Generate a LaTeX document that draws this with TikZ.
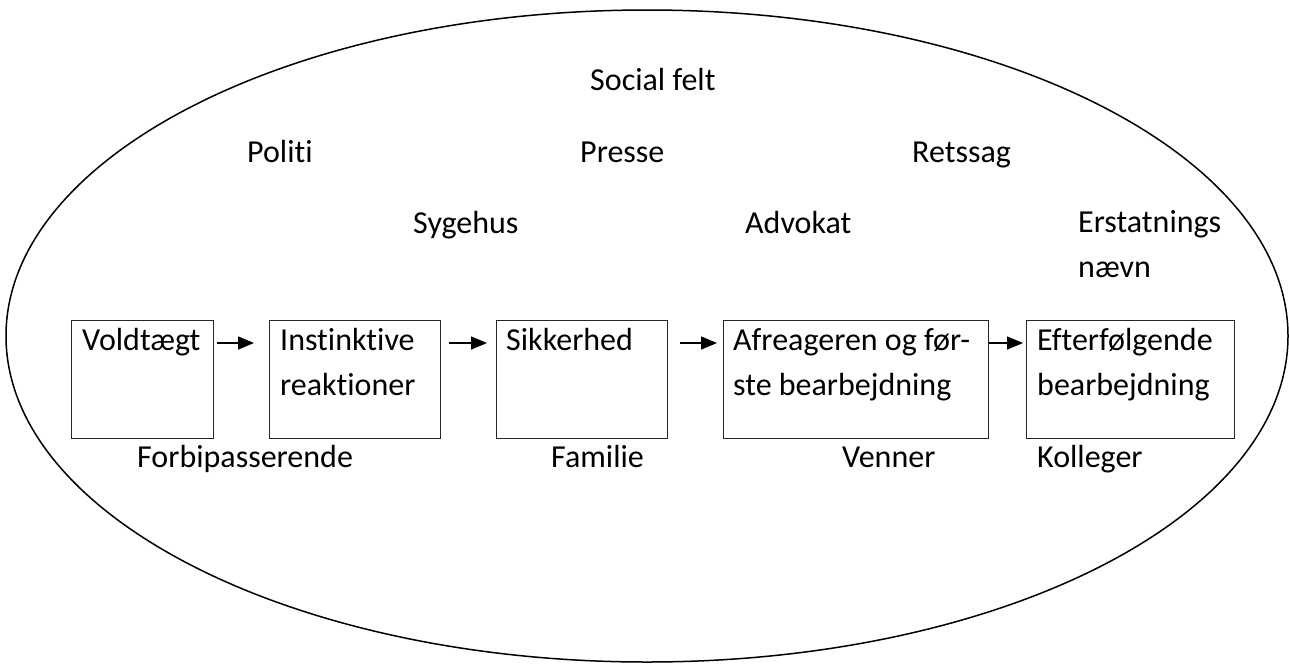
\documentclass[tikz,border=0pt]{standalone}
\usepackage{fontspec}
\setmainfont{Carlito}[Ligatures={NoCommon}]
\usetikzlibrary{arrows.meta}
\tikzset{
  lbl/.style={anchor=base west, inner sep=0pt, font=\fontsize{32pt}{45pt}\selectfont},
  boxtxt/.style={anchor=base west, inner sep=0pt, align=left, font=\fontsize{32pt}{45pt}\selectfont},
  stagebox/.style={draw=black!85, line width=1.2pt, anchor=north west, inner sep=0pt},
  arr/.style={line width=1.5pt, -{Triangle[length=16pt,width=13pt]}},
  field/.style={line width=1.5pt}
}
\begin{document}
\begin{tikzpicture}[x=1pt,y=-1pt]
\useasboundingbox (0,0) rectangle (1289,664);
% social field ellipse
\draw[field] (647,336) ellipse [x radius=641, y radius=326];
% outer labels
\node[lbl] (social) at (590,90) {Social felt};
\node[lbl] (politi) at (247,162) {Politi};
\node[lbl] (presse) at (580,162) {Presse};
\node[lbl] (retssag) at (912,162) {Retssag};
\node[lbl] (sygehus) at (413,233) {Sygehus};
\node[lbl] (advokat) at (745,233) {Advokat};
\node[lbl] (erst) at (1078,232) {Erstatnings};
\node[lbl] (naevn) at (1078,277) {nævn};
\node[lbl] (forbi) at (137,467) {Forbipasserende};
\node[lbl] (familie) at (551,467) {Familie};
\node[lbl] (venner) at (842,467) {Venner};
\node[lbl] (kolleger) at (1037,467) {Kolleger};
% stage boxes
\node[stagebox, minimum width=142pt, minimum height=118pt] (b1) at (71,320) {};
\node[stagebox, minimum width=171pt, minimum height=118pt] (b2) at (269,320) {};
\node[stagebox, minimum width=171pt, minimum height=118pt] (b3) at (496,320) {};
\node[stagebox, minimum width=265pt, minimum height=118pt] (b4) at (723,320) {};
\node[stagebox, minimum width=208pt, minimum height=118pt] (b5) at (1026,320) {};
% box texts
\node[boxtxt] (t1) at ([xshift=11pt,yshift=-30pt]b1.north west) {Voldtægt};
\node[boxtxt] (t2) at ([xshift=11pt,yshift=-30pt]b2.north west) {Instinktive};
\node[boxtxt] (t2b) at ([xshift=11pt,yshift=-75pt]b2.north west) {reaktioner};
\node[boxtxt] (t3) at ([xshift=10pt,yshift=-30pt]b3.north west) {Sikkerhed};
\node[boxtxt] (t4) at ([xshift=10pt,yshift=-30pt]b4.north west) {Afreageren og før-};
\node[boxtxt] (t4b) at ([xshift=10pt,yshift=-75pt]b4.north west) {ste bearbejdning};
\node[boxtxt] (t5) at ([xshift=11pt,yshift=-30pt]b5.north west) {Efterfølgende};
\node[boxtxt] (t5b) at ([xshift=11pt,yshift=-75pt]b5.north west) {bearbejdning};
% arrows
\draw[arr, shorten <=3pt, shorten >=15pt] ([yshift=-23pt]b1.north east) -- ([yshift=-23pt]b2.north west);
\draw[arr, shorten <=8pt, shorten >=9pt] ([yshift=-23pt]b2.north east) -- ([yshift=-23pt]b3.north west);
\draw[arr, shorten <=12pt, shorten >=6pt] ([yshift=-23pt]b3.north east) -- ([yshift=-23pt]b4.north west);
\draw[arr, shorten <=0pt, shorten >=3pt] ([yshift=-23pt]b4.north east) -- ([yshift=-23pt]b5.north west);
\end{tikzpicture}
\end{document}
